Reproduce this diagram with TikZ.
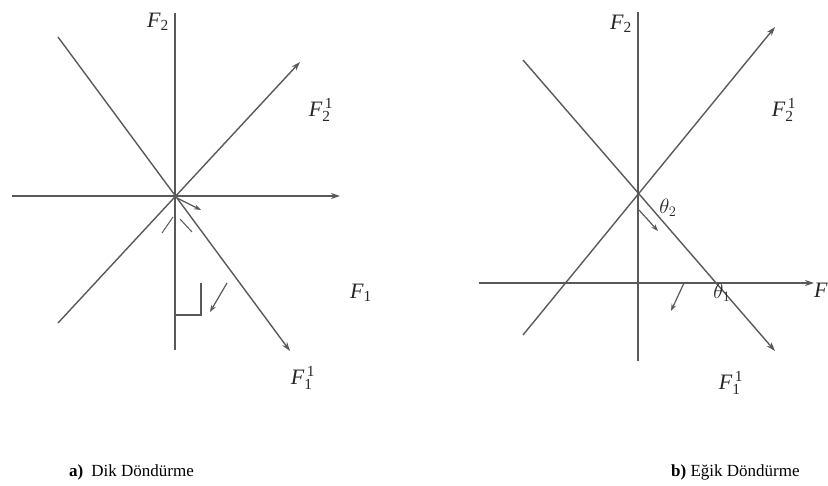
\documentclass[tikz,border=0pt]{standalone}
\usepackage{fontspec}
\setmainfont{Liberation Serif}
\usetikzlibrary{arrows.meta}
\begin{document}
\begin{tikzpicture}[x=1pt,y=-1pt,
  ax/.style={draw=black!65,line width=1.4pt},
  axa/.style={ax,-{Stealth[length=9pt,width=6pt]}},
  sm/.style={draw=black!65,line width=1.2pt,-{Stealth[length=7pt,width=5pt]}},
  lab/.style={font=\fontsize{22}{22}\selectfont\itshape,inner sep=0pt,text=black!85},
  captxt/.style={font=\fontsize{17}{17}\selectfont,inner sep=0pt,anchor=west}]
\useasboundingbox (0,0) rectangle (828,486);
% ---------- panel a ----------
\coordinate (aO) at (175,196);
\coordinate (aVt) at (175,13);
\coordinate (aVb) at (175,350);
\coordinate (aHl) at (12,196);
\coordinate (aHr) at (340,196);
\coordinate (aUL) at (58,37);
\coordinate (aLR) at (290,351);
\coordinate (aLL) at (58,323);
\coordinate (aUR) at (300,62);
\draw[ax] (aVt) -- (aVb);
\draw[axa] (aHl) -- (aHr);
\draw[axa] (aUL) -- (aLR);
\draw[axa] (aLL) -- (aUR);
\coordinate (aS1) at (177,198);
\coordinate (aS2) at (201,210);
\draw[sm] (aS1) -- (aS2);
\coordinate (aM1) at (162,233);
\coordinate (aM2) at (173,217);
\coordinate (aM3) at (180,219);
\coordinate (aM4) at (192,232);
\draw[ax,line width=1pt] (aM1) -- (aM2);
\draw[ax,line width=1pt] (aM3) -- (aM4);
\coordinate (aR1) at (201,283);
\coordinate (aR2) at (201,315);
\coordinate (aR3) at (175,315);
\draw[ax,line width=1.2pt] (aR1) -- (aR2) -- (aR3);
\coordinate (aT1) at (227,283);
\coordinate (aT2) at (210,312);
\draw[sm] (aT1) -- (aT2);
\node[lab] (aF2) at (158,22) {F\textsubscript{\upshape 2}};
\node[lab] (aF21) at (321,110) {F$^{\,\mathrm{1}}_{\mathrm{2}}$};
\node[lab] (aF1) at (361,293) {F\textsubscript{\upshape 1}};
\node[lab] (aF11) at (303,378) {F$^{\,\mathrm{1}}_{\mathrm{1}}$};
\node[captxt] (capa) at (69,472) {\textbf{a)}\hspace{8pt}Dik Döndürme};
% ---------- panel b ----------
\coordinate (bO) at (637,193);
\coordinate (bVt) at (638,12);
\coordinate (bVb) at (638,361);
\coordinate (bHl) at (479,283);
\coordinate (bHr) at (814,283);
\coordinate (bUL) at (523,60);
\coordinate (bLR) at (775,351);
\coordinate (bLL) at (523,335);
\coordinate (bUR) at (775,27);
\draw[ax] (bVt) -- (bVb);
\draw[axa] (bHl) -- (bHr);
\draw[axa] (bUL) -- (bLR);
\draw[axa] (bLL) -- (bUR);
\coordinate (bS1) at (639,210);
\coordinate (bS2) at (658,231);
\draw[sm] (bS1) -- (bS2);
\coordinate (bT1) at (684,283);
\coordinate (bT2) at (671,311);
\draw[sm] (bT1) -- (bT2);
\node[lab] (bF2) at (621,24) {F\textsubscript{\upshape 2}};
\node[lab] (bF21) at (784,110) {F$^{\,\mathrm{1}}_{\mathrm{2}}$};
\node[lab] (bF11) at (731,383) {F$^{\,\mathrm{1}}_{\mathrm{1}}$};
\node[lab,anchor=west] (bF1) at (814,292) {F\textsubscript{\upshape 1}};
\node[lab] (bt2) at (668,208) {$\theta_2$};
\node[lab] (bt1) at (722,293) {$\theta_1$};
\node[captxt] (capb) at (671,472) {\textbf{b)} Eğik Döndürme};
\end{tikzpicture}
\end{document}
